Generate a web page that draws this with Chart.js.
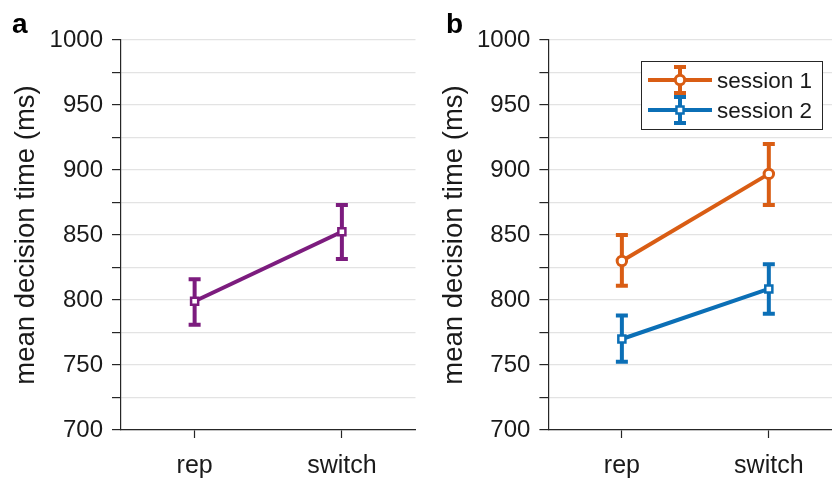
<!DOCTYPE html>
<html>
<head>
<meta charset="utf-8">
<script src="https://cdn.jsdelivr.net/npm/chart.js@4.4.1/dist/chart.umd.min.js"></script>
<style>
  html, body { margin: 0; padding: 0; background: #fff; }
  #wrap { position: relative; width: 832px; height: 478px; overflow: hidden; }
  #boxA { position: absolute; left: 0; top: 0; width: 423px; height: 478px; }
  #boxB { position: absolute; left: 420px; top: 0; width: 430px; height: 478px; }
</style>
</head>
<body>
<div id="wrap">
  <div id="boxA"><canvas id="chartA" width="423" height="478"></canvas></div>
  <div id="boxB"><canvas id="chartB" width="430" height="478"></canvas></div>
</div>
<script>
// ---------- data ----------
const categories = ['rep', 'switch'];

// panel a (pooled)
const pooledMean = [799, 852.5];
const pooledLow  = [781, 831.5];
const pooledHigh = [816, 873];

// panel b (by session)
const seriesNames = ['session 1', 'session 2'];
const session1Mean = [830, 897];
const session1Low  = [811, 873];
const session1High = [850, 920];
const session2Mean = [770, 808.5];
const session2Low  = [752.5, 789.5];
const session2High = [788, 827.5];

// axis
const yMin = 700, yMax = 1000, yStep = 25, yLabelStep = 50;
const yTitle = 'mean decision time (ms)';
const panelLetters = ['a', 'b'];

// ---------- styles ----------
const PURPLE = '#7C1C7E';
const ORANGE = '#D95D14';
const BLUE = '#0B6FB6';
const AXIS = '#262626';
const GRID = '#e3e3e3';
const FONT = "'Liberation Sans', Arial, Helvetica, sans-serif";
const LW = 4;
const CAP = 6;

const errorBarPlugin = {
  id: 'errorBars',
  beforeDatasetsDraw(chart) {
    const ctx = chart.ctx;
    const y = chart.scales.y;
    chart.data.datasets.forEach((ds, i) => {
      const meta = chart.getDatasetMeta(i);
      ctx.save();
      ctx.strokeStyle = ds.borderColor;
      ctx.lineWidth = LW;
      ctx.lineCap = 'butt';
      meta.data.forEach((pt, j) => {
        const x = pt.x;
        const yl = y.getPixelForValue(ds.errLow[j]);
        const yh = y.getPixelForValue(ds.errHigh[j]);
        ctx.beginPath();
        ctx.moveTo(x, yl + LW / 2); ctx.lineTo(x, yh - LW / 2);
        ctx.moveTo(x - CAP, yl); ctx.lineTo(x + CAP, yl);
        ctx.moveTo(x - CAP, yh); ctx.lineTo(x + CAP, yh);
        ctx.stroke();
      });
      ctx.restore();
    });
  }
};

function letterPlugin(letter, x, y) {
  return {
    id: 'letter_' + letter,
    afterDraw(chart) {
      const ctx = chart.ctx;
      ctx.save();
      ctx.font = 'bold 28px ' + FONT;
      ctx.fillStyle = '#000';
      ctx.textBaseline = 'alphabetic';
      ctx.fillText(letter, x, y);
      ctx.restore();
    }
  };
}

const legendPlugin = {
  id: 'boxLegend',
  afterDraw(chart) {
    const ctx = chart.ctx;
    const bx = 221, by = 61, bw = 181, bh = 68;
    ctx.save();
    ctx.fillStyle = '#fff';
    ctx.fillRect(bx, by, bw, bh);
    ctx.strokeStyle = AXIS;
    ctx.lineWidth = 1;
    ctx.strokeRect(bx + 0.5, by + 0.5, bw, bh);
    chart.data.datasets.forEach((ds, i) => {
      const cy = by + 19 + i * 30;
      const x1 = bx + 7, x2 = bx + 71, cx = (x1 + x2) / 2;
      ctx.strokeStyle = ds.borderColor;
      ctx.lineWidth = LW;
      ctx.beginPath();
      ctx.moveTo(x1, cy); ctx.lineTo(x2, cy);
      ctx.moveTo(cx, cy - 13); ctx.lineTo(cx, cy + 13);
      ctx.moveTo(cx - CAP, cy - 13); ctx.lineTo(cx + CAP, cy - 13);
      ctx.moveTo(cx - CAP, cy + 13); ctx.lineTo(cx + CAP, cy + 13);
      ctx.stroke();
      ctx.fillStyle = '#fff';
      ctx.lineWidth = ds.pointBorderWidth;
      ctx.beginPath();
      if (ds.pointStyle === 'circle') {
        ctx.arc(cx, cy, ds.pointRadius, 0, Math.PI * 2);
      } else {
        const s = ds.pointRadius * Math.SQRT1_2;
        ctx.rect(cx - s, cy - s, 2 * s, 2 * s);
      }
      ctx.fill(); ctx.stroke();
      ctx.fillStyle = '#1a1a1a';
      ctx.font = '22.5px ' + FONT;
      ctx.textBaseline = 'middle';
      ctx.fillText(ds.label, x2 + 5, cy + 2);
    });
    ctx.restore();
  }
};

function makeDataset(label, mean, low, high, color, style) {
  return {
    label: label,
    data: mean,
    errLow: low,
    errHigh: high,
    borderColor: color,
    backgroundColor: '#ffffff',
    borderWidth: LW,
    pointBorderWidth: style === 'circle' ? 3 : 2.5,
    pointStyle: style,
    pointRadius: style === 'circle' ? 4.7 : 5,
    pointBackgroundColor: '#ffffff',
    pointBorderColor: color,
    tension: 0,
    fill: false
  };
}

function makeOptions(yAxisWidth, titlePad, rightPad) {
  return {
    responsive: false,
    animation: false,
    events: [],
    layout: { padding: { left: 0, top: 40, right: rightPad, bottom: 0 } },
    plugins: { legend: { display: false }, tooltip: { enabled: false } },
    scales: {
      x: {
        type: 'category',
        offset: true,
        border: { display: true, color: AXIS, width: 1.2 },
        grid: { display: true, drawOnChartArea: false, drawTicks: true, tickLength: 8, tickColor: AXIS, tickWidth: 1.2 },
        ticks: { color: '#1a1a1a', font: { family: FONT, size: 25 }, padding: 13, maxRotation: 0 },
        afterFit(s) { s.height = 48; }
      },
      y: {
        min: yMin, max: yMax,
        border: { display: true, color: AXIS, width: 1.2 },
        grid: { color: GRID, lineWidth: 1.2, drawTicks: true, tickLength: 9, tickColor: AXIS, tickWidth: 1.2 },
        ticks: {
          stepSize: yStep,
          color: '#1a1a1a',
          font: { family: FONT, size: 24 },
          padding: 9,
          callback: (v) => (v % yLabelStep === 0 ? String(v) : '')
        },
        title: {
          display: true, text: yTitle, color: '#1a1a1a',
          font: { family: FONT, size: 27.5 },
          padding: { top: titlePad, bottom: 0 }
        },
        afterFit(s) { s.width = yAxisWidth; }
      }
    }
  };
}

new Chart(document.getElementById('chartA'), {
  type: 'line',
  data: {
    labels: categories,
    datasets: [makeDataset('all', pooledMean, pooledLow, pooledHigh, PURPLE, 'rect')]
  },
  options: makeOptions(121, 10, 0),
  plugins: [errorBarPlugin, letterPlugin(panelLetters[0], 12, 33)]
});

new Chart(document.getElementById('chartB'), {
  type: 'line',
  data: {
    labels: categories,
    datasets: [
      makeDataset(seriesNames[0], session1Mean, session1Low, session1High, ORANGE, 'circle'),
      makeDataset(seriesNames[1], session2Mean, session2Low, session2High, BLUE, 'rect')
    ]
  },
  options: makeOptions(128.4, 18, 0),
  plugins: [errorBarPlugin, legendPlugin, letterPlugin(panelLetters[1], 26, 33)]
});
</script>
</body>
</html>
